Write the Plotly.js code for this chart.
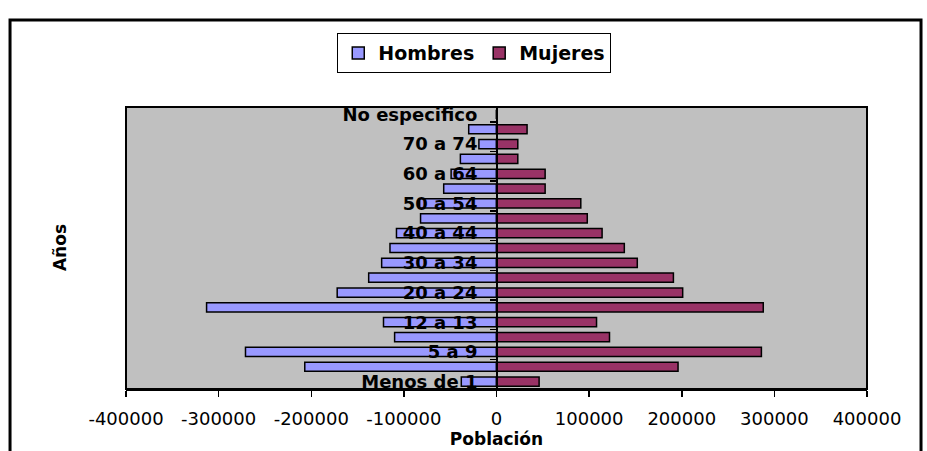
<!DOCTYPE html>
<html>
<head>
<meta charset="utf-8">
<script src="https://cdn.plot.ly/plotly-3.0.1.min.js"></script>
<style>html,body{margin:0;padding:0;background:#fff;}#chart{width:927px;height:451px;}</style>
</head>
<body>
<div id="chart"></div>
<script>
// Age groups, bottom to top
var categories = ['Menos de 1','1 a 4','5 a 9','10 a 11','12 a 13','14 a 19','20 a 24','25 a 29','30 a 34','35 a 39','40 a 44','45 a 49','50 a 54','55 a 59','60 a 64','65 a 69','70 a 74','75 y más','No especifico'];
// Men shown to the left (negative values)
var hombres = [-38000,-207000,-271000,-110000,-122000,-313000,-172000,-138000,-124000,-115000,-108000,-82000,-83000,-57000,-49000,-39000,-19000,-30000,0];
var mujeres = [46000,196000,286000,122000,108000,288000,201000,191000,152000,138000,114000,98000,91000,52500,52500,23000,23000,33000,0];
// Labels shown on the category axis (every other group)
var yTickLabels = ['Menos de 1','5 a 9','12 a 13','20 a 24','30 a 34','40 a 44','50 a 54','60 a 64','70 a 74','No especifico'];
var xTickVals = [-400000,-300000,-200000,-100000,0,100000,200000,300000,400000];
var xTickText = ['-400000','-300000','-200000','-100000','0','100000','200000','300000','400000'];

var FONT = 'DejaVu Sans, Arial, sans-serif';
var zeroPos = 0.5007;

var traces = [
  {type:'bar', orientation:'h', name:'Hombres', y:categories, x:hombres, xaxis:'x', yaxis:'y',
   width:0.62, marker:{color:'#9999FF', line:{color:'#000', width:1.5}}, hoverinfo:'skip'},
  {type:'bar', orientation:'h', name:'Mujeres', y:categories, x:mujeres, xaxis:'x', yaxis:'y2',
   width:0.62, marker:{color:'#993366', line:{color:'#000', width:1.5}}, hoverinfo:'skip'}
];

var layout = {
  width:927, height:451, autosize:false,
  margin:{l:126, r:60, t:107, b:62, pad:0},
  paper_bgcolor:'#FFFFFF', plot_bgcolor:'#C0C0C0',
  font:{family:FONT, color:'#000'},
  barmode:'overlay',
  showlegend:true,
  legend:{orientation:'h', x:0.47, xanchor:'center', y:1.262, yanchor:'top',
          bgcolor:'#FFFFFF', bordercolor:'#000', borderwidth:1,
          font:{family:FONT, size:19, color:'#000', weight:'bold'},
          traceorder:'normal'},
  xaxis:{range:[-400000,400000], tickvals:xTickVals, ticktext:xTickText,
         ticks:'outside', ticklen:6, tickwidth:1.5, tickcolor:'#000',
         showline:true, linecolor:'#000', linewidth:2, showgrid:false, zeroline:false,
         ticklabelstandoff:6,
         tickfont:{family:FONT, size:18, color:'#000'},
         title:{text:'Población', standoff:2, font:{family:FONT, size:17, color:'#000', weight:'bold'}}},
  yaxis:{type:'category', categoryarray:categories, categoryorder:'array', range:[-0.5,18.5],
         anchor:'free', position:zeroPos, side:'left',
         tickvals:yTickLabels, ticks:'outside', ticklen:16, tickcolor:'rgba(0,0,0,0)',
         showline:false, showgrid:false, zeroline:false, fixedrange:true,
         tickfont:{family:FONT, size:18, color:'#000', weight:'bold'}},
  yaxis2:{type:'category', categoryarray:categories, categoryorder:'array', range:[-0.5,18.5],
          overlaying:'y', anchor:'free', position:zeroPos, side:'left',
          tickson:'boundaries', ticks:'outside', ticklen:6, tickwidth:1.5, tickcolor:'#000',
          showticklabels:false, showline:true, linecolor:'#000', linewidth:2,
          showgrid:false, zeroline:false, fixedrange:true},
  annotations:[
    {text:'Años', xref:'paper', yref:'paper', x:-0.089, y:0.5, xanchor:'center', yanchor:'middle',
     textangle:-90, showarrow:false, font:{family:FONT, size:17, color:'#000', weight:'bold'}}
  ],
  shapes:[
    {type:'rect', xref:'paper', yref:'paper', x0:0, x1:1, y0:0, y1:1, line:{color:'#000', width:2}, layer:'above'},
    {type:'rect', xref:'paper', yref:'paper', x0:-0.1565, x1:1.0729, y0:-0.4, y1:1.3085, line:{color:'#000', width:3}, layer:'above'}
  ]
};

Plotly.newPlot('chart', traces, layout, {displayModeBar:false, staticPlot:true});
</script>
</body>
</html>
